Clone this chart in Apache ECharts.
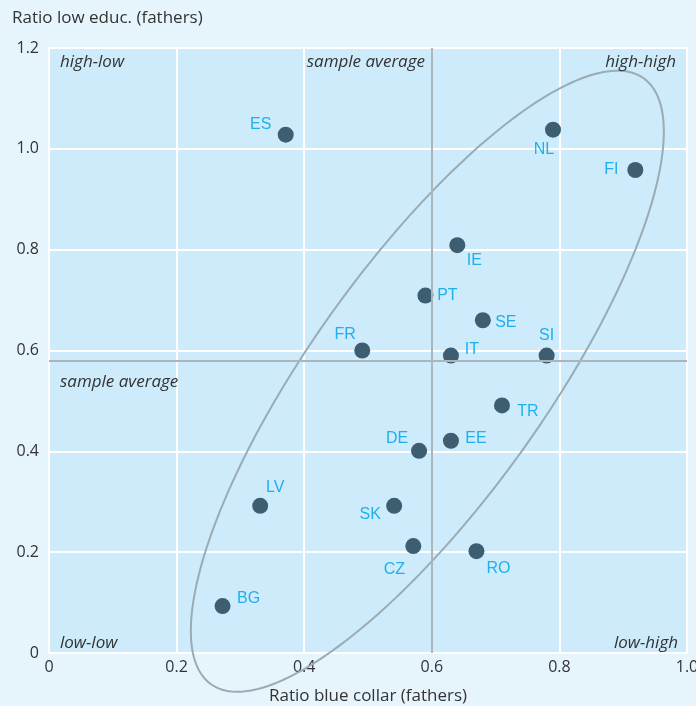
<!DOCTYPE html>
<html>
<head>
<meta charset="utf-8">
<script src="https://cdn.jsdelivr.net/npm/echarts@6/dist/echarts.min.js"></script>
<style>
  html, body { margin: 0; padding: 0; background: #e6f5fc; }
  #chart { width: 696px; height: 706px; }
</style>
</head>
<body>
<div id="chart"></div>
<script>
// ---- data ----
const countries   = ['ES', 'NL', 'FI', 'IE', 'PT', 'SE', 'FR', 'IT', 'SI', 'TR', 'EE', 'DE', 'LV', 'SK', 'CZ', 'BG', 'RO'];
const blueCollar  = [0.371, 0.790, 0.919, 0.640, 0.590, 0.680, 0.491, 0.630, 0.780, 0.710, 0.630, 0.580, 0.331, 0.541, 0.571, 0.272, 0.670];
const lowEduc     = [1.028, 1.038, 0.958, 0.809, 0.709, 0.660, 0.600, 0.590, 0.590, 0.491, 0.421, 0.401, 0.292, 0.292, 0.212, 0.093, 0.202];
const sampleAvgX  = 0.601;
const sampleAvgY  = 0.577;
const xTicks      = [0, 0.2, 0.4, 0.6, 0.8, 1.0];
const yTicks      = [0, 0.2, 0.4, 0.6, 0.8, 1.0, 1.2];
// ellipse in data units: centre, major and minor semi-axis vectors
const ellipseCenter = [0.593, 0.539];
const ellipseMajor  = [0.339, 0.601];
const ellipseMinor  = [-0.150, 0.135];

// ---- label placement (style) ----
const labelOffsets = {
  ES: [-25, -10], NL: [-9, 20], FI: [-24, 0], IE: [17, 15], PT: [22, 0], SE: [23, 2],
  FR: [-17, -16], IT: [21, -6], SI: [0, -20], TR: [26, 6], EE: [25, -2], DE: [-22, -12],
  LV: [15, -18], SK: [-24, 9], CZ: [-19, 23], BG: [26, -8], RO: [22, 17]
};

const FONT = '"Open Sans", "Liberation Sans", sans-serif';
const LFONT = '"Liberation Sans", Arial, sans-serif';
const chart = echarts.init(document.getElementById('chart'), null, { renderer: 'canvas' });

const points = countries.map((c, i) => ({
  value: [blueCollar[i], lowEduc[i]],
  name: c,
  label: { offset: labelOffsets[c] }
}));

const fmt = v => (v === 0 ? '0' : v.toFixed(1));

const option = {
  backgroundColor: '#e6f5fc',
  animation: false,
  title: {
    text: 'Ratio low educ. (fathers)',
    left: 7, top: 5,
    textStyle: { fontFamily: FONT, fontSize: 17, fontWeight: 'normal', color: '#333' }
  },
  grid: {
    left: 49, right: 9, top: 48, bottom: 53,
    outerBoundsMode: 'none',
    containLabel: false,
    show: true, backgroundColor: '#cdebfa', borderWidth: 0
  },
  xAxis: {
    type: 'value', min: xTicks[0], max: xTicks[xTicks.length - 1], interval: 0.2,
    name: 'Ratio blue collar (fathers)', nameLocation: 'middle', nameGap: 35,
    nameTextStyle: { fontFamily: FONT, fontSize: 17, color: '#333' },
    axisLine: { show: false }, axisTick: { show: false },
    axisLabel: { fontFamily: FONT, fontSize: 16, color: '#333', margin: 6, formatter: fmt },
    splitLine: { show: true, lineStyle: { color: '#ffffff', width: 2 } }
  },
  yAxis: {
    type: 'value', min: yTicks[0], max: yTicks[yTicks.length - 1], interval: 0.2,
    axisLine: { show: false }, axisTick: { show: false },
    axisLabel: { fontFamily: FONT, fontSize: 16, color: '#333', margin: 10, formatter: fmt },
    splitLine: { show: true, lineStyle: { color: '#ffffff', width: 2 } }
  },
  graphic: [
    { type: 'text', z: 10, left: 60, top: 54, style: { text: 'high-low', font: 'italic 17px ' + FONT, fill: '#333' } },
    { type: 'text', z: 10, right: 271, top: 54, style: { text: 'sample average', font: 'italic 17px ' + FONT, fill: '#333' } },
    { type: 'text', z: 10, right: 20, top: 54, style: { text: 'high-high', font: 'italic 17px ' + FONT, fill: '#333' } },
    { type: 'text', z: 10, left: 60, top: 374, style: { text: 'sample average', font: 'italic 17px ' + FONT, fill: '#333' } },
    { type: 'text', z: 10, left: 60, top: 635, style: { text: 'low-low', font: 'italic 17px ' + FONT, fill: '#333' } },
    { type: 'text', z: 10, right: 18, top: 635, style: { text: 'low-high', font: 'italic 17px ' + FONT, fill: '#333' } }
  ],
  series: [
    {
      type: 'custom',
      silent: true,
      clip: false,
      z: 3,
      data: [ellipseCenter],
      renderItem: function (params, api) {
        const pts = [];
        const n = 240;
        for (let i = 0; i <= n; i++) {
          const t = (i / n) * Math.PI * 2;
          const x = ellipseCenter[0] + ellipseMajor[0] * Math.cos(t) + ellipseMinor[0] * Math.sin(t);
          const y = ellipseCenter[1] + ellipseMajor[1] * Math.cos(t) + ellipseMinor[1] * Math.sin(t);
          pts.push(api.coord([x, y]));
        }
        return {
          type: 'polygon',
          shape: { points: pts },
          style: { fill: 'none', stroke: '#9aabb4', lineWidth: 2 }
        };
      }
    },
    {
      type: 'scatter',
      z: 4,
      symbol: 'circle',
      symbolSize: 16,
      itemStyle: { color: '#3d5e70', opacity: 1 },
      label: {
        show: true, position: 'inside', formatter: '{b}',
        fontFamily: LFONT, fontSize: 16, color: '#1fb0ec'
      },
      data: points,
      markLine: {
        silent: true,
        symbol: 'none',
        label: { show: false },
        lineStyle: { color: '#aab6bc', width: 2, type: 'solid' },
        data: [{ xAxis: sampleAvgX }, { yAxis: sampleAvgY }]
      }
    }
  ]
};
chart.setOption(option);
</script>
</body>
</html>
